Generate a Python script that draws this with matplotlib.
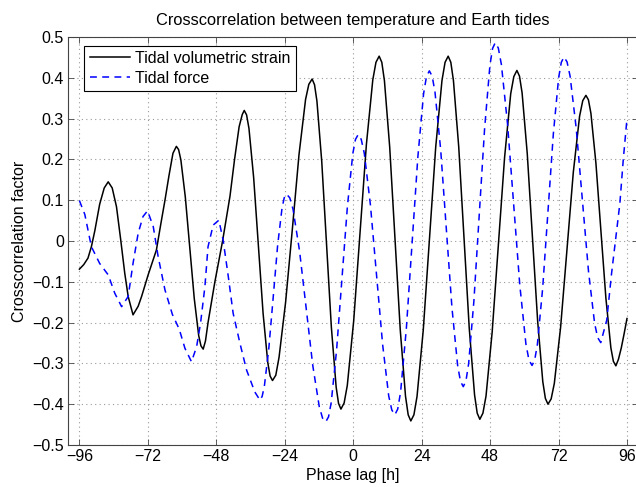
import matplotlib
matplotlib.use("Agg")
import matplotlib.pyplot as plt
from matplotlib.ticker import FuncFormatter

plt.rcParams['font.family'] = ['Liberation Sans', 'DejaVu Sans']

title = "Crosscorrelation between temperature and Earth tides"
xlabel = "Phase lag [h]"
ylabel = "Crosscorrelation factor"
series_names = ["Tidal volumetric strain", "Tidal force"]
xticks = [-96, -72, -48, -24, 0, 24, 48, 72, 96]
yticks = [-0.5, -0.4, -0.3, -0.2, -0.1, 0, 0.1, 0.2, 0.3, 0.4, 0.5]

# Tidal volumetric strain (black solid)
strain_lag = [-96, -94.5, -93, -91.8, -90.6, -88.9, -87.3, -85.9, -84.5, -83, -81.5, -80.1, -78.9, -77.2,
              -75.4, -74.2, -71.9, -69, -67.5, -66.0, -64.6, -63.2, -62.0,
              -61.22, -60.43, -58.87, -57.3, -55.73, -54.17, -53.38, -52.6,
              -51.8, -50.9, -48.5, -45.8, -43.2, -41.6, -40.0, -38.9, -38.2,
              -37.38, -36.55, -34.9, -33.25, -31.6, -29.95, -29.13, -28.3,
              -27.14, -26.0, -23.7, -21.35, -19.0, -16.7, -15.56, -14.4,
              -13.56, -12.72, -11.03, -9.35, -7.67, -5.98, -5.14, -4.3,
              -3.18, -2.07, 0.17, 2.4, 4.63, 6.87, 7.98, 9.1,
              10.03, 10.95, 12.8, 14.65, 16.5, 18.35, 19.28, 20.2,
              21.29, 22.38, 24.57, 26.75, 28.93, 31.12, 32.21, 33.3,
              34.23, 35.15, 37.0, 38.85, 40.7, 42.55, 43.48, 44.4,
              45.48, 46.57, 48.73, 50.9, 53.07, 55.23, 56.32, 57.4,
              58.31, 59.22, 61.03, 62.85, 64.67, 66.48, 67.39, 68.3,
              69.41, 70.52, 72.73, 74.95, 77.17, 79.38, 80.49, 81.6,
              82.48, 83.35, 85.1, 86.85, 88.6, 90.35, 91.23, 92.1,
              93.0, 94.0, 95.0, 96.0]
strain_corr = [-0.069, -0.058, -0.042, -0.014, 0.025, 0.09, 0.13, 0.145, 0.13, 0.084, 0.002, -0.079, -0.136, -0.181,
               -0.16, -0.136, -0.083, -0.022, 0.04, 0.10, 0.16, 0.215, 0.232,
               0.224, 0.199, 0.108, -0.017, -0.141, -0.232, -0.257, -0.265,
               -0.245, -0.2, -0.1, 0.0, 0.11, 0.2, 0.28, 0.31, 0.32,
               0.309, 0.276, 0.155, -0.011, -0.177, -0.298, -0.331, -0.342,
               -0.329, -0.285, -0.150, 0.028, 0.212, 0.347, 0.384, 0.397,
               0.383, 0.343, 0.195, -0.008, -0.210, -0.358, -0.398, -0.412,
               -0.397, -0.354, -0.196, 0.021, 0.237, 0.395, 0.438, 0.453,
               0.438, 0.393, 0.230, 0.006, -0.218, -0.381, -0.426, -0.441,
               -0.426, -0.381, -0.218, 0.006, 0.230, 0.393, 0.438, 0.453,
               0.438, 0.393, 0.231, 0.008, -0.215, -0.377, -0.422, -0.437,
               -0.422, -0.380, -0.223, -0.010, 0.204, 0.361, 0.403, 0.418,
               0.404, 0.363, 0.214, 0.009, -0.196, -0.345, -0.386, -0.400,
               -0.387, -0.349, -0.211, -0.022, 0.168, 0.306, 0.344, 0.357,
               0.346, 0.313, 0.191, 0.026, -0.140, -0.262, -0.295, -0.306,
               -0.29, -0.262, -0.227, -0.19]

# Tidal force (blue dashed)
force_lag = [-96, -94.1, -91.8, -88.9, -85.9, -83.6, -81.2, -78.9, -77.2, -75.4, -73.7, -72.1,
             -70.1, -68.4, -66.0, -63.4, -61.0, -59.0, -56.7,
             -54.9, -53.5, -52.0, -50.9, -49.1, -47.1,
             -45.6, -43.8, -42.1, -39.7, -37.4, -34.5, -32.7,
             -31.93, -31.15, -29.6, -28.05, -26.5, -24.95, -24.18, -23.4,
             -22.25, -21.1, -18.8, -16.5, -14.2, -11.9, -10.75, -9.6,
             -8.65, -7.71, -5.82, -3.93, -2.03, -0.14, 0.80, 1.75,
             2.82, 3.89, 6.03, 8.18, 10.32, 12.46, 13.53, 14.6,
             15.61, 16.62, 18.63, 20.65, 22.67, 24.68, 25.69, 26.7,
             27.69, 28.68, 30.67, 32.65, 34.63, 36.62, 37.61, 38.6,
             39.53, 40.47, 42.33, 44.2, 46.07, 47.93, 48.87, 49.8,
             50.88, 51.95, 54.1, 56.25, 58.4, 60.55, 61.63, 62.7,
             63.63, 64.57, 66.43, 68.3, 70.17, 72.03, 72.97, 73.9,
             74.98, 76.05, 78.2, 80.35, 82.5, 84.65, 85.73, 86.8,
             88.9, 90.6, 92.4, 93.5, 94.7, 96.0]
force_corr = [0.099, 0.065, -0.014, -0.055, -0.083, -0.128, -0.161, -0.136, -0.055, 0.019, 0.06, 0.074,
              0.035, -0.038, -0.12, -0.18, -0.216, -0.263, -0.296,
              -0.259, -0.2, -0.112, -0.014, 0.039, 0.051,
              0.002, -0.087, -0.177, -0.251, -0.316, -0.37, -0.39,
              -0.381, -0.356, -0.264, -0.138, -0.011, 0.081, 0.106, 0.115,
              0.106, 0.078, -0.025, -0.164, -0.304, -0.406, -0.434, -0.443,
              -0.431, -0.396, -0.267, -0.091, 0.085, 0.214, 0.249, 0.261,
              0.249, 0.215, 0.089, -0.083, -0.254, -0.380, -0.414, -0.426,
              -0.412, -0.370, -0.215, -0.005, 0.206, 0.361, 0.403, 0.417,
              0.404, 0.365, 0.224, 0.030, -0.164, -0.305, -0.344, -0.357,
              -0.343, -0.301, -0.146, 0.065, 0.275, 0.430, 0.472, 0.486,
              0.473, 0.433, 0.288, 0.091, -0.107, -0.252, -0.292, -0.305,
              -0.292, -0.254, -0.116, 0.073, 0.262, 0.400, 0.438, 0.451,
              0.439, 0.404, 0.276, 0.101, -0.074, -0.202, -0.237, -0.249,
              -0.194, -0.079, 0.027, 0.092, 0.2, 0.30]

assert len(strain_lag) == len(strain_corr)
assert len(force_lag) == len(force_corr)

W, H = 636, 487
fig = plt.figure(figsize=(W / 100, H / 100), dpi=100)
ax = fig.add_axes([68 / W, 42 / H, 570.4 / W, 408 / H])

ax.plot(strain_lag, strain_corr, color='black', lw=1.1, label=series_names[0])
ax.plot(force_lag, force_corr, color=(0, 0, 1), lw=1.1, dashes=(4.5, 3.5), label=series_names[1])

ax.set_xlim(-100, 100)
ax.set_ylim(-0.5, 0.5)
ax.set_xticks(xticks)
ax.set_yticks(yticks)
ax.yaxis.set_major_formatter(FuncFormatter(lambda v, p: ('%g' % round(v, 2)).replace('-', '\u2212')))
ax.xaxis.set_major_formatter(FuncFormatter(lambda v, p: ('%g' % v).replace('-', '\u2212')))

ax.grid(True, linestyle=(0, (1, 3)), color='#999999', lw=0.8)
ax.tick_params(direction='in', top=True, right=True, length=4, width=0.6,
               labelsize=11.5, pad=3, color='#444444')
for s in ax.spines.values():
    s.set_color('#444444')
    s.set_linewidth(0.8)

ax.set_title(title, fontsize=11.8, pad=9)
ax.set_xlabel(xlabel, fontsize=11.5, labelpad=3)
ax.set_ylabel(ylabel, fontsize=11.5, labelpad=4)

leg = ax.legend(loc='upper left', bbox_to_anchor=(16 / 570.4, 1 - 8.5 / 408), fontsize=11.5,
                frameon=True, fancybox=False, edgecolor='black', framealpha=1,
                handlelength=2.5, borderpad=0.35, labelspacing=0.3, handletextpad=0.35,
                borderaxespad=0)
leg.get_frame().set_linewidth(0.8)

fig.savefig('out.png', dpi=100)
